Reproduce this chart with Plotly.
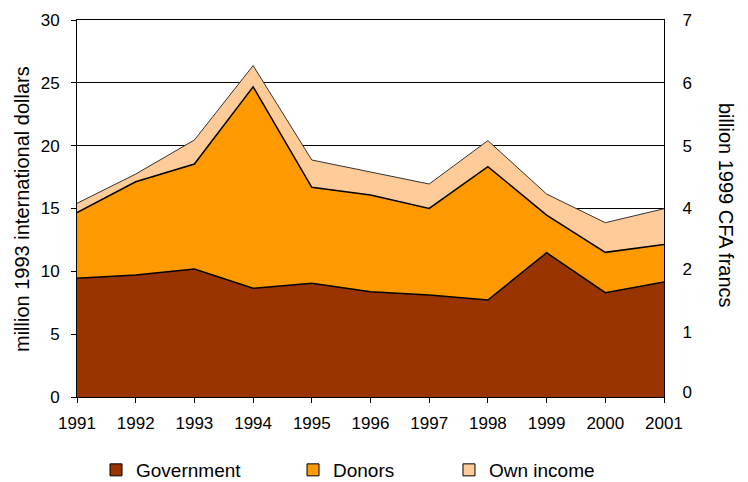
import plotly.graph_objects as go

# Health financing sources, stacked by year
years = [1991, 1992, 1993, 1994, 1995, 1996, 1997, 1998, 1999, 2000, 2001]
government = [9.45, 9.71, 10.19, 8.65, 9.05, 8.38, 8.12, 7.72, 11.48, 8.30, 9.15]
donors = [5.22, 7.42, 8.35, 16.04, 7.64, 7.69, 6.89, 10.61, 3.00, 3.21, 2.98]
own_income = [0.74, 0.61, 1.91, 1.68, 2.17, 1.81, 1.94, 2.07, 1.67, 2.36, 2.85]

series_names = ["Government", "Donors", "Own income"]
series_colors = ["#993300", "#FF9900", "#FFCC99"]

# Left axis (million 1993 international dollars)
left_ticks = [0, 5, 10, 15, 20, 25, 30]
# Right axis (billion 1999 CFA francs) labels and where they sit on the left scale
right_tickvals = [0.4, 5.2, 10.15, 15, 20, 25, 30]
right_ticktext = ["0", "1", "2", "4", "5", "6", "7"]

FONT = "Liberation Sans, Arial, sans-serif"

fig = go.Figure()

series = [government, donors, own_income]
line_styles = [dict(color="black", width=1.5),
               dict(color="black", width=1.5),
               dict(color="#333333", width=1)]
for name, vals, col, ln in zip(series_names, series, series_colors, line_styles):
    fig.add_trace(go.Scatter(
        x=years, y=vals, name=name, stackgroup="one", mode="lines",
        line=ln, fillcolor=col, showlegend=False, hoverinfo="x+y+name",
    ))

# Square legend swatches, one legend per entry so each can be placed
legend_keys = ["legend", "legend2", "legend3"]
legend_x = [0.0324, 0.368, 0.6337]
for name, col, key in zip(series_names, series_colors, legend_keys):
    fig.add_trace(go.Scatter(
        x=[None], y=[None], mode="markers", name=name, legend=key,
        marker=dict(symbol="square", size=12, color=col,
                    line=dict(color="black", width=1)),
        showlegend=True,
    ))

# Invisible trace to activate the secondary axis
fig.add_trace(go.Scatter(x=[years[0]], y=[0], yaxis="y2", mode="markers",
                         marker=dict(opacity=0), showlegend=False, hoverinfo="skip"))

legend_common = dict(orientation="h", yanchor="middle", xanchor="left",
                     y=(397 - 470) / 377, font=dict(family=FONT, size=19, color="black"),
                     bgcolor="rgba(0,0,0,0)", borderwidth=0)

fig.update_layout(
    width=748, height=482,
    margin=dict(l=77, r=84, t=20, b=85, autoexpand=False),
    paper_bgcolor="white", plot_bgcolor="white",
    font=dict(family=FONT, size=17, color="black"),
    xaxis=dict(
        range=[years[0], years[-1]], tickmode="array", tickvals=years,
        ticktext=[str(y) for y in years],
        showline=True, linecolor="black", linewidth=1, mirror=True,
        ticks="outside", ticklen=5, tickcolor="black", showgrid=False,
        zeroline=False, ticklabelstandoff=6,
        tickfont=dict(family=FONT, size=17, color="black"),
    ),
    yaxis=dict(
        range=[0, 30], tickmode="array", tickvals=left_ticks,
        showline=True, linecolor="black", linewidth=1,
        ticks="outside", ticklen=5, tickcolor="black",
        showgrid=True, gridcolor="black", gridwidth=1, zeroline=False,
        ticklabelstandoff=8,
        tickfont=dict(family=FONT, size=17, color="black"),
    ),
    yaxis2=dict(
        range=[0, 30], overlaying="y", side="right", tickmode="array",
        tickvals=right_tickvals, ticktext=right_ticktext,
        showline=True, linecolor="black", linewidth=1, ticks="",
        showgrid=False, zeroline=False, ticklabelstandoff=14,
        tickfont=dict(family=FONT, size=17, color="black"),
    ),
    legend=dict(x=legend_x[0], **legend_common),
    legend2=dict(x=legend_x[1], **legend_common),
    legend3=dict(x=legend_x[2], **legend_common),
    annotations=[
        dict(text="million 1993 international dollars", textangle=-90,
             xref="paper", yref="paper", x=(22 - 77) / 587, y=(397 - 209) / 377,
             xanchor="center", yanchor="middle", showarrow=False,
             font=dict(family=FONT, size=20, color="black")),
        dict(text="billion 1999 CFA francs", textangle=90,
             xref="paper", yref="paper", x=(726 - 77) / 587, y=(397 - 205) / 377,
             xanchor="center", yanchor="middle", showarrow=False,
             font=dict(family=FONT, size=20, color="black")),
    ],
)

fig.write_html("out.html")
